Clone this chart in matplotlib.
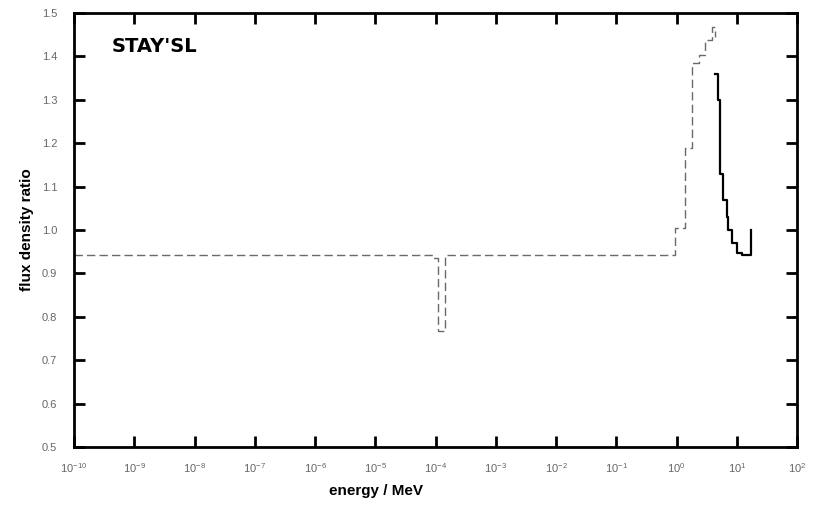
import matplotlib.pyplot as plt
import numpy as np

# energy bin edges (MeV) and flux density ratio
# rising / flat part (drawn faint, broken in the original)
e_up = [1e-10, 9e-5, 1.1e-4, 1.44e-4, 0.95, 1.38, 1.81, 2.36, 2.97, 3.88, 4.35]
r_up = [0.942, 0.936, 0.767, 0.942, 1.005, 1.19, 1.385, 1.403, 1.438, 1.468, 1.445]
# falling part after the peak (solid)
e_dn = [4.35, 4.9, 5.3, 5.9, 6.9, 7.2, 8.3, 10.1, 12.2, 17.3]
r_dn = [1.36, 1.30, 1.13, 1.07, 1.03, 1.0, 0.97, 0.947, 0.942, 1.0]

x_ticks = [10.0**k for k in range(-10, 3)]
y_ticks = np.round(np.arange(0.5, 1.51, 0.1), 1)

plt.rcParams['font.family'] = ['Liberation Sans', 'DejaVu Sans']

fig = plt.figure(figsize=(8.17, 5.05), dpi=100)
ax = fig.add_axes([0.0906, 0.1149, 0.885, 0.8594])

ax.step(e_up, r_up, where='post', color='#6a6a6a', lw=1.0, ls=(0, (6, 3)))
ax.step(e_dn, r_dn, where='post', color='black', lw=1.6)

ax.set_xscale('log')
ax.set_xlim(1e-10, 1e2)
ax.set_ylim(0.5, 1.5)
ax.set_xticks(x_ticks)
ax.set_yticks(y_ticks)
ax.set_yticklabels(['%.1f' % v for v in y_ticks])
ax.minorticks_off()
ax.tick_params(direction='in', length=8, width=2, top=True, right=True,
               labelsize=8, labelcolor='#666666')
ax.tick_params(axis='x', pad=10)
ax.tick_params(axis='y', pad=12)
for s in ax.spines.values():
    s.set_linewidth(2)

ax.set_xlabel('energy / MeV', fontsize=11, fontweight='bold')
ax.xaxis.set_label_coords(0.418, -0.085)
ax.set_ylabel('flux density ratio', fontsize=11, fontweight='bold', labelpad=6)
ax.text(0.052, 0.922, "STAY'SL", transform=ax.transAxes, fontsize=14,
        fontweight='bold', family='DejaVu Sans', ha='left', va='center')

fig.savefig('out.png', dpi=100)
